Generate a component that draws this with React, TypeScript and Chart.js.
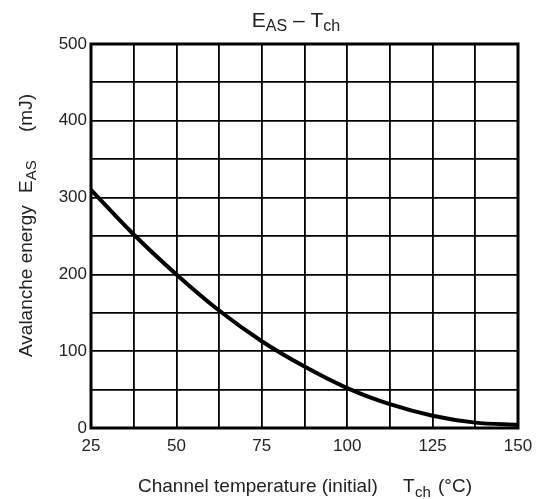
import React, { useEffect, useRef } from "react";
import { Chart, registerables } from "chart.js";

Chart.register(...registerables);

const temperatures = [25, 37.5, 50, 62.5, 75, 87.5, 100, 112.5, 125, 137.5, 150];
const energies = [310, 252, 200, 153, 113, 80, 52, 31, 16, 7, 4];
const xTickLabels = [25, 50, 75, 100, 125, 150];
const yTickLabels = [0, 100, 200, 300, 400, 500];

const FONT = "'Liberation Sans', Arial, sans-serif";

const titlePlugin = {
  id: "customTitles",
  beforeDatasetsDraw(chart: any) {
    const { ctx, chartArea } = chart;
    ctx.save();
    ctx.strokeStyle = "#000";
    ctx.lineWidth = 3;
    ctx.strokeRect(chartArea.left, chartArea.top, chartArea.right - chartArea.left, chartArea.bottom - chartArea.top);
    ctx.restore();
  },
  afterDraw(chart: any) {
    const { ctx } = chart;
    ctx.save();
    ctx.fillStyle = "#222";
    ctx.textBaseline = "alphabetic";
    ctx.textAlign = "left";
    // Top title: E_AS – T_ch
    const parts = [
      { t: "E", s: 21, dy: 0 },
      { t: "AS", s: 16, dy: 4 },
      { t: " – T", s: 21, dy: 0 },
      { t: "ch", s: 16, dy: 4 },
    ];
    let total = 0;
    parts.forEach((p) => {
      ctx.font = `${p.s}px ${FONT}`;
      total += ctx.measureText(p.t).width;
    });
    let x = 296 - total / 2;
    parts.forEach((p) => {
      ctx.font = `${p.s}px ${FONT}`;
      ctx.fillText(p.t, x, 27 + p.dy);
      x += ctx.measureText(p.t).width;
    });

    // X axis title
    ctx.font = `19px ${FONT}`;
    ctx.fillText("Channel temperature (initial)", 138, 492);
    ctx.fillText("T", 403, 492);
    ctx.font = `15px ${FONT}`;
    ctx.fillText("ch", 415, 497);
    ctx.font = `19px ${FONT}`;
    ctx.fillText("(°C)", 438, 492);

    // Y axis title (rotated)
    ctx.save();
    ctx.translate(32, 0);
    ctx.rotate(-Math.PI / 2);
    ctx.font = `19px ${FONT}`;
    ctx.fillText("Avalanche energy", -357, 0);
    ctx.fillText("E", -193, 0);
    const ew = ctx.measureText("E").width;
    ctx.font = `15px ${FONT}`;
    ctx.fillText("AS", -193 + ew, 4);
    ctx.font = `19px ${FONT}`;
    ctx.fillText("(mJ)", -132, 0);
    ctx.restore();

    ctx.restore();
  },
};

export default function App() {
  const canvasRef = useRef<HTMLCanvasElement | null>(null);

  useEffect(() => {
    document.body.style.margin = "0";
    const canvas = canvasRef.current;
    if (!canvas) return;
    const chart = new Chart(canvas, {
      type: "line",
      data: {
        datasets: [
          {
            data: temperatures.map((t, i) => ({ x: t, y: energies[i] })),
            borderColor: "#000",
            borderWidth: 4,
            pointRadius: 0,
            cubicInterpolationMode: "monotone",
            fill: false,
          },
        ],
      },
      options: {
        responsive: false,
        animation: false,
        layout: { padding: { top: 44, right: 18, left: 0, bottom: 0 } },
        plugins: { legend: { display: false }, title: { display: false }, tooltip: { enabled: false } },
        scales: {
          x: {
            type: "linear",
            min: 25,
            max: 150,
            afterFit: (s: any) => {
              s.height = 71;
              s.paddingLeft = 0;
              s.paddingRight = 0;
            },
            afterBuildTicks: (s: any) => {
              const arr: any[] = [];
              for (let v = 25; v <= 150.001; v += 12.5) arr.push({ value: v });
              s.ticks = arr;
            },
            ticks: {
              autoSkip: false,
              maxRotation: 0,
              padding: 8,
              color: "#222",
              font: { size: 17, family: FONT },
              callback: (v: any) => (xTickLabels.includes(Number(v)) ? String(v) : ""),
            },
            grid: { color: "#000", lineWidth: 1.8, drawTicks: false },
            border: { display: false },
          },
          y: {
            type: "linear",
            min: 0,
            max: 500,
            afterFit: (s: any) => {
              s.width = 91;
              s.paddingTop = 0;
              s.paddingBottom = 0;
            },
            afterBuildTicks: (s: any) => {
              const arr: any[] = [];
              for (let v = 0; v <= 500; v += 50) arr.push({ value: v });
              s.ticks = arr;
            },
            ticks: {
              autoSkip: false,
              padding: 4,
              color: "#222",
              font: { size: 17, family: FONT },
              callback: (v: any) => (yTickLabels.includes(Number(v)) ? String(v) : ""),
            },
            grid: { color: "#000", lineWidth: 1.8, drawTicks: false },
            border: { display: false },
          },
        },
      },
      plugins: [titlePlugin],
    } as any);
    return () => chart.destroy();
  }, []);

  return (
    <div style={{ position: "absolute", left: 0, top: 0, width: 536, height: 499, background: "#fff" }}>
      <canvas ref={canvasRef} width={536} height={499} style={{ width: 536, height: 499 }} />
    </div>
  );
}
